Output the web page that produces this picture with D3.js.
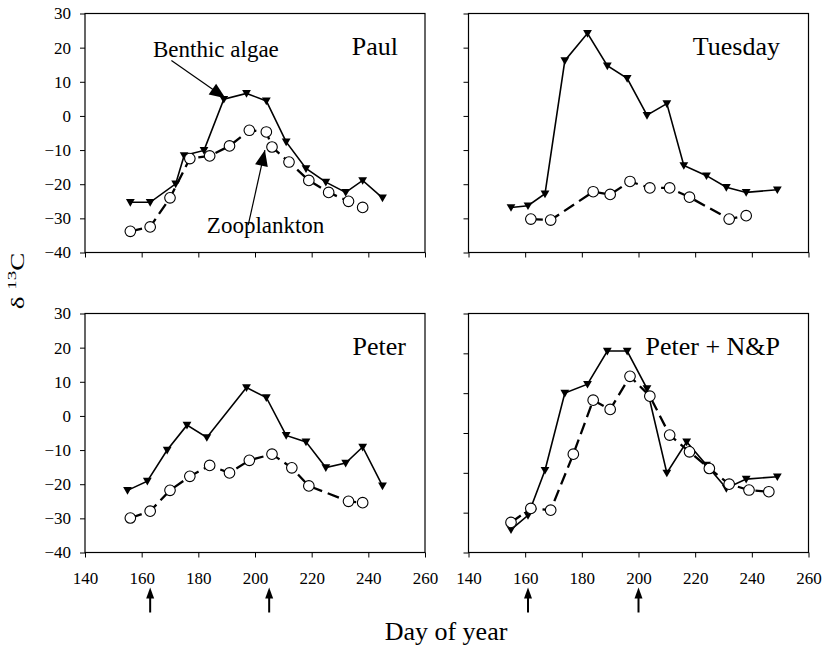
<!DOCTYPE html>
<html><head><meta charset="utf-8">
<script src="https://cdn.jsdelivr.net/npm/d3@7"></script>
<style>
html,body{margin:0;padding:0;background:#fff;}
svg{display:block;font-family:"Liberation Serif","Times New Roman",serif;}
</style></head>
<body><svg id="c" width="824" height="648"></svg>
<script>
// ---- data ----
const xTicks = [140, 160, 180, 200, 220, 240, 260];
const yTicks = [-40, -30, -20, -10, 0, 10, 20, 30];

const paulBenthicDay = [156, 163, 172, 175, 182, 189, 197, 204, 211, 218, 225, 232, 238, 245];
const paulBenthic    = [-25.3, -25.3, -19.9, -11.6, -10.1, 4.9, 6.6, 4.4, -7.6, -15.4, -19.4, -22.4, -18.9, -24.0];
const paulZooDay     = [156, 163, 170, 177, 184, 191, 198, 204, 206, 212, 219, 226, 233, 238];
const paulZoo        = [-33.8, -32.5, -24.0, -12.5, -11.7, -8.8, -4.2, -4.7, -9.1, -13.5, -18.9, -22.4, -25.0, -26.8];

const tuesdayBenthicDay = [155, 161, 167, 174, 182, 189, 196, 203, 210, 216, 224, 231, 238, 249];
const tuesdayBenthic    = [-26.8, -26.3, -22.8, 16.2, 24.2, 14.7, 11.0, 0.2, 3.6, -14.5, -17.5, -20.9, -22.4, -21.6];
const tuesdayZooDay     = [162, 169, 184, 190, 197, 204, 211, 218, 232, 238];
const tuesdayZoo        = [-30.2, -30.5, -22.2, -23.0, -19.2, -21.1, -21.1, -23.8, -30.2, -29.2];

const peterBenthicDay = [155, 162, 169, 176, 183, 197, 204, 211, 218, 225, 232, 238, 245];
const peterBenthic    = [-21.8, -19.1, -10.0, -2.7, -6.3, 8.3, 5.4, -5.7, -7.6, -15.1, -13.8, -9.1, -20.5];
const peterZooDay     = [156, 163, 170, 177, 184, 191, 198, 206, 213, 219, 233, 238];
const peterZoo        = [-29.9, -27.9, -21.8, -17.7, -14.5, -16.7, -13.0, -11.2, -15.2, -20.5, -25.0, -25.4];

const npBenthicDay = [155, 161, 167, 174, 182, 189, 196, 203, 210, 217, 224, 231, 238, 249];
const npBenthic    = [-33.3, -29.1, -15.9, 6.7, 9.3, 19.0, 19.0, 8.0, -16.7, -7.6, -14.4, -21.2, -18.5, -17.8];
const npZooDay     = [155, 162, 169, 177, 184, 190, 197, 204, 211, 218, 225, 232, 239, 246];
const npZoo        = [-31.2, -27.1, -27.6, -11.2, 4.6, 1.9, 11.6, 5.8, -5.6, -10.5, -15.4, -20.0, -21.7, -22.2];

const panelNames = ["Paul", "Tuesday", "Peter", "Peter + N&P"];
const arrowDays = [[], [], [163, 205], [161, 200]];

// ---- layout ----
const svg = d3.select("#c");
const W = 340, H = 239;
const panels = [
  {x: 85,    y: 13.5,  name: panelNames[0], bd: paulBenthicDay, bv: paulBenthic, zd: paulZooDay, zv: paulZoo, yLabels: true,  xLabels: false, nTicks: 7},
  {x: 468.5, y: 13.5,  name: panelNames[1], bd: tuesdayBenthicDay, bv: tuesdayBenthic, zd: tuesdayZooDay, zv: tuesdayZoo, yLabels: false, xLabels: false, nTicks: 7},
  {x: 85,    y: 313.5, name: panelNames[2], bd: peterBenthicDay, bv: peterBenthic, zd: peterZooDay, zv: peterZoo, yLabels: true,  xLabels: true, nTicks: 7},
  {x: 468.5, y: 313.5, name: panelNames[3], bd: npBenthicDay, bv: npBenthic, zd: npZooDay, zv: npZoo, yLabels: false, xLabels: true, nTicks: 6}
];

const triPath = "M-4.4,-3.3L4.4,-3.3L0,4.4Z";

panels.forEach((p, i) => {
  const g = svg.append("g").attr("transform", `translate(${p.x},${p.y})`);
  const x = d3.scaleLinear().domain([140, 260]).range([0, W]);
  const y = d3.scaleLinear().domain([-40, 30]).range([H, 0]);
  p.sx = x; p.sy = y; p.g = g;

  // y axis
  const yt = p.nTicks === 7 ? yTicks : d3.range(p.nTicks + 1).map(k => -40 + k * 70 / p.nTicks);
  const ya = d3.axisLeft(y).tickValues(yt).tickSize(5).tickPadding(9)
    .tickFormat(p.yLabels ? d3.format("d") : () => "");
  const yg = g.append("g").call(ya);
  // x axis
  const xa = d3.axisBottom(x).tickValues(xTicks).tickSize(5).tickPadding(14.5)
    .tickFormat(p.xLabels ? d3.format("d") : () => "");
  const xg = g.append("g").attr("transform", `translate(0,${H})`).call(xa);
  [yg, xg].forEach(a => {
    a.attr("font-family", null);
    a.select(".domain").remove();
    a.selectAll("line").attr("stroke", "#000").attr("stroke-width", 1);
    a.selectAll("text").attr("font-size", 17).attr("fill", "#000");
  });
  // frame
  g.append("rect").attr("x", 0).attr("y", 0).attr("width", W).attr("height", H)
    .attr("fill", "none").attr("stroke", "#000").attr("stroke-width", 1.2);

  const bData = p.bd.map((d, k) => [d, p.bv[k]]);
  const zData = p.zd.map((d, k) => [d, p.zv[k]]);
  const line = d3.line().x(d => x(d[0])).y(d => y(d[1]));

  // benthic algae
  g.append("path").attr("d", line(bData)).attr("fill", "none").attr("stroke", "#000").attr("stroke-width", 1.6);
  g.selectAll(".tri").data(bData).join("path").attr("class", "tri")
    .attr("transform", d => `translate(${x(d[0])},${y(d[1])})`)
    .attr("d", triPath).attr("fill", "#000");

  // zooplankton
  g.append("path").attr("d", line(zData)).attr("fill", "none").attr("stroke", "#000")
    .attr("stroke-width", 2.3).attr("stroke-dasharray", "12,6");
  g.selectAll(".circ").data(zData).join("circle").attr("class", "circ")
    .attr("cx", d => x(d[0])).attr("cy", d => y(d[1])).attr("r", 5.3)
    .attr("fill", "#fff").attr("stroke", "#000").attr("stroke-width", 1.1);

  // panel name
  g.append("text").attr("x", i % 2 === 0 ? (i === 0 ? 313 : 321) : 311.5).attr("y", 41.5)
    .attr("text-anchor", "end").attr("font-size", 26).attr("fill", "#000").text(p.name);

  // arrows under x axis
  arrowDays[i].forEach(d => {
    const ax = x(d);
    g.append("line").attr("x1", ax).attr("x2", ax).attr("y1", H + 60).attr("y2", H + 44)
      .attr("stroke", "#000").attr("stroke-width", 2);
    g.append("path").attr("d", `M${ax - 4},${H + 46}L${ax + 4},${H + 46}L${ax},${H + 35}Z`).attr("fill", "#000");
  });
});

// annotation arrows in Paul panel
function annArrow(g, x1, y1, x2, y2) {
  g.append("line").attr("x1", x1).attr("y1", y1).attr("x2", x2).attr("y2", y2)
    .attr("stroke", "#000").attr("stroke-width", 1.2);
  const ang = Math.atan2(y2 - y1, x2 - x1);
  const L = 16, hw = 6.5;
  const bx = x2 - L * Math.cos(ang), by = y2 - L * Math.sin(ang);
  const px = -Math.sin(ang) * hw, py = Math.cos(ang) * hw;
  g.append("path").attr("d", `M${x2},${y2}L${bx + px},${by + py}L${bx - px},${by - py}Z`).attr("fill", "#000");
}
const P = panels[0];
P.g.append("text").attr("x", P.sx(164)).attr("y", P.sy(17.3)).attr("font-size", 23).attr("fill", "#000").text("Benthic algae");
annArrow(P.g, P.sx(170.5), P.sy(16.2), P.sx(189.6), P.sy(5.2));
P.g.append("text").attr("x", P.sx(183)).attr("y", P.sy(-34.4)).attr("font-size", 23).attr("fill", "#000").text("Zooplankton");
annArrow(P.g, P.sx(197.6), P.sy(-32), P.sx(203.5), P.sy(-10));

// axis titles
svg.append("text").attr("x", 446).attr("y", 640).attr("text-anchor", "middle")
  .attr("font-size", 26).attr("fill", "#000").text("Day of year");
const yl = svg.append("text").attr("transform", "translate(23.5,281) rotate(-90) scale(1.35,0.9)")
  .attr("text-anchor", "middle").attr("font-size", 20).attr("fill", "#000");
yl.append("tspan").text("δ ");
yl.append("tspan").attr("font-size", 14).attr("dy", -8).text("13");
yl.append("tspan").attr("dy", 8).text("C");
</script></body></html>
